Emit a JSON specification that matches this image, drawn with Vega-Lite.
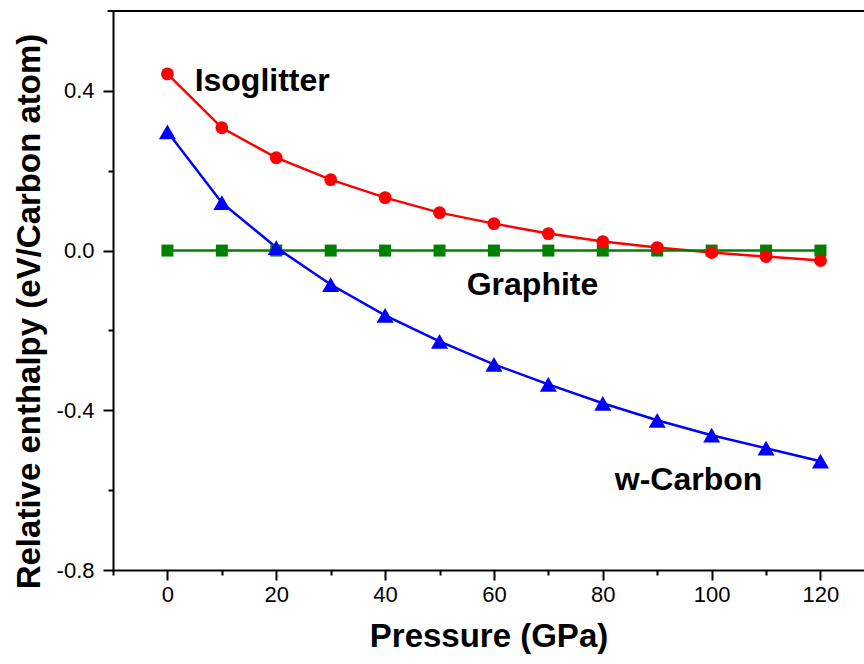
{
  "$schema": "https://vega.github.io/schema/vega-lite/v6.json",
  "width": 751,
  "height": 559,
  "autosize": {"type": "none"},
  "padding": {"left": 113, "top": 11, "right": 0, "bottom": 94},
  "background": "white",
  "config": {
    "view": {"stroke": null},
    "font": "Liberation Sans",
    "axis": {"labelFont": "Liberation Sans", "labelFontSize": 22, "labelColor": "black", "titleFont": "Liberation Sans", "titleFontSize": 33, "titleFontWeight": "bold", "titleColor": "black", "grid": false, "domainColor": "black", "domainWidth": 2, "tickColor": "black", "tickWidth": 2}
  },
  "datasets": {
    "pts": [
      {"p": 0, "s": "Isoglitter", "h": 0.4425},
      {"p": 10, "s": "Isoglitter", "h": 0.3075},
      {"p": 20, "s": "Isoglitter", "h": 0.2325},
      {"p": 30, "s": "Isoglitter", "h": 0.1775},
      {"p": 40, "s": "Isoglitter", "h": 0.1325},
      {"p": 50, "s": "Isoglitter", "h": 0.095},
      {"p": 60, "s": "Isoglitter", "h": 0.0675},
      {"p": 70, "s": "Isoglitter", "h": 0.0425},
      {"p": 80, "s": "Isoglitter", "h": 0.0225},
      {"p": 90, "s": "Isoglitter", "h": 0.0075},
      {"p": 100, "s": "Isoglitter", "h": -0.005},
      {"p": 110, "s": "Isoglitter", "h": -0.015},
      {"p": 120, "s": "Isoglitter", "h": -0.025},
      {"p": 0, "s": "Graphite", "h": 0},
      {"p": 10, "s": "Graphite", "h": 0},
      {"p": 20, "s": "Graphite", "h": 0},
      {"p": 30, "s": "Graphite", "h": 0},
      {"p": 40, "s": "Graphite", "h": 0},
      {"p": 50, "s": "Graphite", "h": 0},
      {"p": 60, "s": "Graphite", "h": 0},
      {"p": 70, "s": "Graphite", "h": 0},
      {"p": 80, "s": "Graphite", "h": 0},
      {"p": 90, "s": "Graphite", "h": 0},
      {"p": 100, "s": "Graphite", "h": 0},
      {"p": 110, "s": "Graphite", "h": 0},
      {"p": 120, "s": "Graphite", "h": 0},
      {"p": 0, "s": "w-Carbon", "h": 0.2975},
      {"p": 10, "s": "w-Carbon", "h": 0.12},
      {"p": 20, "s": "w-Carbon", "h": 0.0075},
      {"p": 30, "s": "w-Carbon", "h": -0.085},
      {"p": 40, "s": "w-Carbon", "h": -0.1625},
      {"p": 50, "s": "w-Carbon", "h": -0.2275},
      {"p": 60, "s": "w-Carbon", "h": -0.285},
      {"p": 70, "s": "w-Carbon", "h": -0.335},
      {"p": 80, "s": "w-Carbon", "h": -0.3825},
      {"p": 90, "s": "w-Carbon", "h": -0.425},
      {"p": 100, "s": "w-Carbon", "h": -0.4625},
      {"p": 110, "s": "w-Carbon", "h": -0.495},
      {"p": 120, "s": "w-Carbon", "h": -0.5275}
    ],
    "labels": [
      {"p": 5, "h": 0.425, "t": "Isoglitter"},
      {"p": 55, "h": -0.085, "t": "Graphite"},
      {"p": 82.2, "h": -0.575, "t": "w-Carbon"}
    ]
  },
  "layer": [
    {
      "data": {"name": "pts"},
      "mark": {"type": "line", "strokeWidth": 2.5, "clip": true},
      "encoding": {
        "x": {"field": "p", "type": "quantitative", "scale": {"domain": [-10, 128], "nice": false, "zero": false},
          "axis": {"title": "Pressure (GPa)", "values": [-10, 0, 10, 20, 30, 40, 50, 60, 70, 80, 90, 100, 110, 120],
            "labelExpr": "datum.value % 20 == 0 ? datum.label : ''",
            "tickSize": {"condition": {"test": "datum.value % 20 == 0", "value": 10}, "value": 5},
            "labelFontSize": 22, "labelPadding": 4, "titlePadding": 15, "labelFlush": false, "labelOverlap": false}},
        "y": {"field": "h", "type": "quantitative", "scale": {"domain": [-0.8, 0.6], "nice": false},
          "axis": {"title": "Relative enthalpy (eV/Carbon atom)", "values": [-0.8, -0.6, -0.4, -0.2, 0, 0.2, 0.4],
            "labelExpr": "abs(round(datum.value * 10)) % 4 == 0 ? replace(format(datum.value, '.1f'), '\u2212', '-') : ''",
            "tickSize": {"condition": {"test": "abs(round(datum.value * 10)) % 4 == 0", "value": 10}, "value": 5},
            "labelFontSize": 22, "labelPadding": 9, "titlePadding": 10, "titleY": 300, "labelFlush": false, "labelOverlap": false}},
        "color": {"field": "s", "type": "nominal", "scale": {"domain": ["Isoglitter", "Graphite", "w-Carbon"], "range": ["#ff0000", "#008000", "#0000ff"]}, "legend": null},
        "detail": {"field": "s"}
      }
    },
    {
      "data": {"name": "pts"},
      "transform": [{"filter": "datum.s == 'Graphite'"}],
      "mark": {"type": "point", "filled": true, "opacity": 1, "shape": "square", "size": 144, "color": "#008000"},
      "encoding": {
        "x": {"field": "p", "type": "quantitative"},
        "y": {"field": "h", "type": "quantitative"}
      }
    },
    {
      "data": {"name": "pts"},
      "transform": [{"filter": "datum.s == 'Isoglitter'"}],
      "mark": {"type": "point", "filled": true, "opacity": 1, "shape": "circle", "size": 165, "color": "#ff0000"},
      "encoding": {
        "x": {"field": "p", "type": "quantitative"},
        "y": {"field": "h", "type": "quantitative"}
      }
    },
    {
      "data": {"name": "pts"},
      "transform": [{"filter": "datum.s == 'w-Carbon'"}],
      "mark": {"type": "point", "filled": true, "opacity": 1, "shape": "triangle-up", "size": 290, "color": "#0000ff"},
      "encoding": {
        "x": {"field": "p", "type": "quantitative"},
        "y": {"field": "h", "type": "quantitative"}
      }
    },
    {
      "data": {"values": [{"v": 0}]},
      "mark": {"type": "rule", "color": "black", "strokeWidth": 2},
      "encoding": {
        "x": {"datum": -11},
        "x2": {"datum": 128},
        "y": {"datum": 0.6}
      }
    },
    {
      "data": {"name": "labels"},
      "mark": {"type": "text", "align": "left", "baseline": "middle", "fontSize": 32, "fontWeight": "bold", "color": "black"},
      "encoding": {
        "x": {"field": "p", "type": "quantitative"},
        "y": {"field": "h", "type": "quantitative"},
        "text": {"field": "t"}
      }
    }
  ]
}
